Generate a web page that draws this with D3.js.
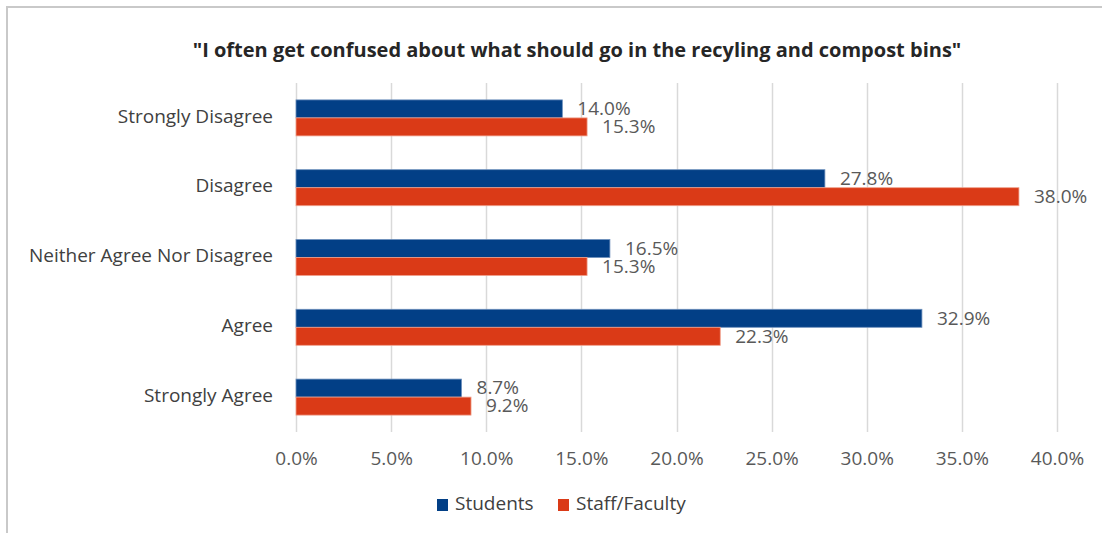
<!DOCTYPE html>
<html>
<head>
<meta charset="utf-8">
<script src="https://cdn.jsdelivr.net/npm/d3@7"></script>
<style>
  html, body { margin: 0; padding: 0; background: #fff; }
  svg { display: block; }
  text { font-family: "Open Sans", "Noto Sans", sans-serif; }
</style>
</head>
<body>
<svg id="chart" width="1102" height="533"></svg>
<script>
// Survey responses: share of respondents per answer, by group
const categories = ["Strongly Disagree", "Disagree", "Neither Agree Nor Disagree", "Agree", "Strongly Agree"];
const seriesNames = ["Students", "Staff/Faculty"];
const students = [14.0, 27.8, 16.5, 32.9, 8.7];
const staffFaculty = [15.3, 38.0, 15.3, 22.3, 9.2];
const xTicks = [0, 5, 10, 15, 20, 25, 30, 35, 40];
const colors = ["#023f86", "#da3a17"];
const title = "\"I often get confused about what should go in the recyling and compost bins\"";

const seriesValues = [students, staffFaculty];
const svg = d3.select("#chart");

// outer chart frame (continues past the right and bottom edges)
svg.append("path")
  .attr("d", "M7,540 V7 H1110")
  .attr("fill", "none")
  .attr("stroke", "#c9c9c9")
  .attr("stroke-width", 2);

const plotLeft = 296, plotRight = 1057, plotTop = 83, plotBottom = 432;

const x = d3.scaleLinear().domain([0, 40]).range([plotLeft, plotRight]);
const y = d3.scaleBand().domain(categories).range([plotTop, plotBottom])
  .paddingInner(0.484).paddingOuter(0.242);
const sub = d3.scaleBand().domain(seriesNames).range([0, y.bandwidth()]);

// title
svg.append("text")
  .attr("x", 577).attr("y", 57)
  .attr("text-anchor", "middle")
  .attr("font-size", 20).attr("font-weight", "bold")
  .attr("fill", "#262626")
  .text(title);

// vertical gridlines
svg.append("g").selectAll("line").data(xTicks).join("line")
  .attr("x1", d => Math.round(x(d)) + 0.5).attr("x2", d => Math.round(x(d)) + 0.5)
  .attr("y1", plotTop).attr("y2", plotBottom)
  .attr("stroke", "#d9d9d9").attr("stroke-width", 1.5);

// x axis labels
const xAxis = d3.axisBottom(x).tickValues(xTicks).tickSize(0).tickPadding(0)
  .tickFormat(d => d.toFixed(1) + "%");
const gx = svg.append("g").attr("transform", `translate(0,${plotBottom + 33})`).call(xAxis);
gx.select(".domain").remove();
gx.selectAll("text").attr("font-size", 19).attr("fill", "#595959")
  .attr("font-family", "\"Open Sans\", sans-serif").attr("dy", "0");

// category labels
const yAxis = d3.axisLeft(y).tickSize(0).tickPadding(23);
const gy = svg.append("g").attr("transform", `translate(${plotLeft},0)`).call(yAxis);
gy.select(".domain").remove();
gy.selectAll("text").attr("font-size", 19).attr("fill", "#404040")
  .attr("font-family", "\"Open Sans\", sans-serif").attr("dy", "0.25em");

// bars and value labels
seriesNames.forEach((name, si) => {
  const g = svg.append("g");
  const vals = seriesValues[si];
  g.selectAll("rect").data(categories).join("rect")
    .attr("x", x(0))
    .attr("y", (c) => y(c) + sub(name))
    .attr("width", (c, i) => x(vals[i]) - x(0))
    .attr("height", sub.bandwidth())
    .attr("fill", colors[si])
    .attr("stroke", si === 0 ? "#6d8fbc" : "#f0a08c")
    .attr("stroke-width", 0.8);
  g.selectAll("text").data(categories).join("text")
    .attr("x", (c, i) => x(vals[i]) + 15)
    .attr("y", (c) => y(c) + sub(name) + sub.bandwidth() / 2)
    .attr("dy", "0.33em")
    .attr("font-size", 19).attr("fill", "#595959")
    .text((c, i) => vals[i].toFixed(1) + "%");
});

// legend
const legend = svg.append("g").attr("transform", "translate(437,499)");
const legendX = [0, 121];
seriesNames.forEach((name, i) => {
  const item = legend.append("g").attr("transform", `translate(${legendX[i]},0)`);
  item.append("rect").attr("width", 11).attr("height", 12).attr("fill", colors[i]);
  item.append("text").attr("x", 18).attr("y", 11)
    .attr("font-size", 19).attr("fill", "#404040").text(name);
});
</script>
</body>
</html>
